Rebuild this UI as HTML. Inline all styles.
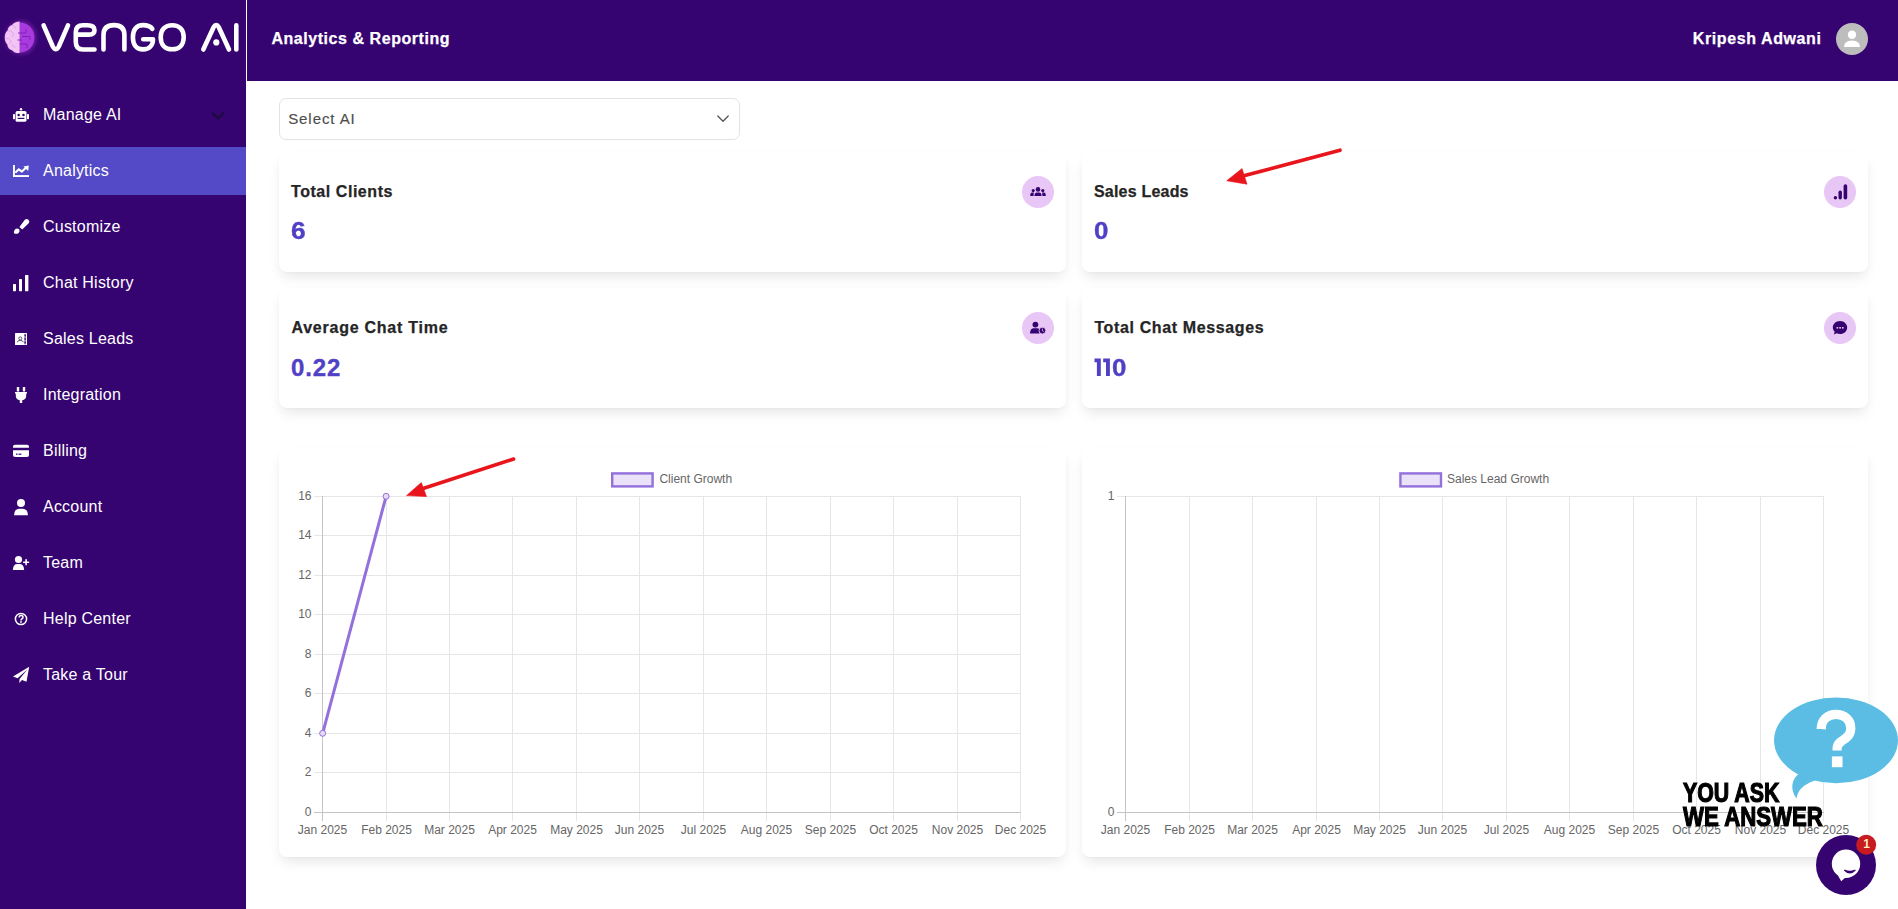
<!DOCTYPE html>
<html><head><meta charset="utf-8">
<style>
*{box-sizing:border-box;margin:0;padding:0}
html,body{width:1898px;height:909px;overflow:hidden;background:#fff;font-family:"Liberation Sans",sans-serif}
.t{position:absolute;white-space:nowrap;line-height:1}
#side{position:absolute;left:0;top:0;width:246px;height:909px;background:#360470}
#hdr{position:absolute;left:247px;top:0;width:1651px;height:81px;background:#360470}
.act{position:absolute;left:0;top:147px;width:246px;height:48px;background:#544ac8}
.mi{font-size:16px;color:#fff;left:43px;letter-spacing:0.22px}
.ic{position:absolute;left:0;top:0}
.card{position:absolute;background:#fff;border-radius:8px;box-shadow:0 7px 14px -3px rgba(0,0,0,0.11),0 1px 2px rgba(0,0,0,0.02)}
.ctitle{font-size:16px;font-weight:bold;color:#252525;-webkit-text-stroke:0.25px #252525}
.cnum{font-size:24px;font-weight:bold;color:#5040c6;-webkit-text-stroke:0.35px #5040c6}
.circ{position:absolute;width:32px;height:32px;border-radius:50%;background:#e8c6f6}
.lab{font-size:12px;color:#666}
</style></head>
<body>
<div id="side"></div>
<div id="hdr"></div>
<div class="act"></div>

<!-- logo -->
<svg class="ic" width="246" height="80" viewBox="0 0 246 80">
  <defs>
    <radialGradient id="glow" cx="50%" cy="50%" r="50%">
      <stop offset="60%" stop-color="#c060f0" stop-opacity="0.5"/>
      <stop offset="100%" stop-color="#c060f0" stop-opacity="0"/>
    </radialGradient>
  </defs>
  <filter id="blr" x="-50%" y="-50%" width="200%" height="200%"><feGaussianBlur stdDeviation="2.2"/></filter>
  <ellipse cx="21" cy="37.5" rx="15" ry="16.5" fill="#a030d8" opacity="0.55" filter="url(#blr)"/>
  <path d="M19.4,22.6 C28.2,22.6 34.4,29.2 34.4,37.6 C34.4,46 28.2,52.6 19.4,52.6 Z" fill="#a83ade"/>
  <path d="M19.6,21.6 C16.4,21.6 13.6,22.8 12,25 C9.4,25.6 7.8,28 7.6,30.6 C5.6,32.2 4.7,34.8 4.8,37.4 C4.6,40.2 5.6,42.6 7.2,44.2 C7.4,47.2 9.4,49.6 12,50.2 C13.8,52.4 16.6,53.2 19.6,53 Z" fill="#f1c4f5"/>
  <g fill="none" stroke="#d995e6" stroke-width="0.9" opacity="0.8">
    <path d="M8,31 Q11.5,30 13,33 Q14,35.5 12,37"/>
    <path d="M6,38.5 Q9,37.5 10.5,40 Q11.5,42.5 9.5,44"/>
    <path d="M12.5,25.5 Q15.5,26 15.5,28.5"/>
    <path d="M11.5,46 Q14.5,45 15.5,48"/>
  </g>
  <g fill="none" stroke="#7a1fb4" stroke-width="0.9">
    <path d="M18,33 L26,33 L26,29"/>
    <path d="M17.5,40 L22,40"/>
    <path d="M22,36.5 L30,36.5 L30,40"/>
    <path d="M20,44 L27,44 L27,48"/>
  </g>
  <g fill="none" stroke="#fff" stroke-width="4.6" stroke-linecap="round" stroke-linejoin="round">
    <path d="M43.6,25.4 L52.8,46.5 Q55.8,52 58.8,46.5 L68,25.4"/>
    <path d="M94.5,49.5 L83,49.5 Q75.8,49.5 75.8,42 L75.8,32 Q75.8,25.2 83,25.2 L87.5,25.2 Q94.5,25.2 94.5,30.3 Q94.5,34.6 89,34.6 L76.5,34.6"/>
    <path d="M103.5,49.5 L103.5,35 Q103.5,25.1 114,25.1 Q124.4,25.1 124.4,35 L124.4,49.5"/>
    <path d="M152.3,28.8 C150.5,26.3 147.5,25.1 142.95,25.1 C136.7,25.1 132.9,29.6 132.9,37.25 C132.9,44.9 136.7,49.4 142.95,49.4 C149.2,49.4 153,45.5 153,39.2 L143.2,39.2"/>
    <path d="M172.2,25.2 C179.3,25.2 183.7,29.8 183.7,37.25 C183.7,44.7 179.3,49.3 172.2,49.3 C165.1,49.3 160.7,44.7 160.7,37.25 C160.7,29.8 165.1,25.2 172.2,25.2 Z"/>
    <path d="M203.3,49.5 L213.6,27.2 Q216.2,22.8 218.8,27.2 L229,49.5"/>
    <path d="M236.3,25.2 L236.3,49.5"/>
  </g>
  <circle cx="216.3" cy="42.4" r="3.1" fill="#fff"/>
</svg>

<!-- header text -->
<div class="t" style="left:271.4px;top:31.2px;font-size:16px;font-weight:bold;color:#fff;letter-spacing:0.55px;-webkit-text-stroke:0.25px #fff">Analytics &amp; Reporting</div>
<div class="t" style="right:76.5px;top:30.7px;font-size:16px;font-weight:bold;color:#fff;letter-spacing:0.6px;-webkit-text-stroke:0.25px #fff">Kripesh Adwani</div>
<svg class="ic" style="left:1836px;top:23px" width="32" height="32" viewBox="0 0 32 32">
  <circle cx="16" cy="16" r="16" fill="#bdbdbd"/>
  <circle cx="16" cy="11.8" r="4.2" fill="#fff"/>
  <path d="M8,24 Q8,17.5 16,17.5 Q24,17.5 24,24 Z" fill="#fff"/>
</svg>

<!-- sidebar menu -->
<div class="t mi" style="top:107.2px">Manage AI</div>
<div class="t mi" style="top:163.2px">Analytics</div>
<div class="t mi" style="top:219.2px">Customize</div>
<div class="t mi" style="top:275.2px">Chat History</div>
<div class="t mi" style="top:331.2px">Sales Leads</div>
<div class="t mi" style="top:387.2px">Integration</div>
<div class="t mi" style="top:443.2px">Billing</div>
<div class="t mi" style="top:499.2px">Account</div>
<div class="t mi" style="top:555.2px">Team</div>
<div class="t mi" style="top:611.2px">Help Center</div>
<div class="t mi" style="top:667.2px">Take a Tour</div>

<svg class="ic" width="246" height="909" viewBox="0 0 246 909">
  <g fill="#fff">
    <!-- robot -->
    <rect x="15.6" y="110.9" width="10.9" height="10.9" rx="1.6"/>
    <rect x="13" y="114" width="2" height="5.2" rx="0.6"/>
    <rect x="27" y="114" width="2" height="5.2" rx="0.6"/>
    <circle cx="21" cy="109.3" r="1.2"/>
    <!-- chart line -->
    <rect x="13" y="165" width="1.9" height="12"/>
    <rect x="13" y="175.1" width="16" height="1.9"/>
    <polygon points="23.4,166.4 28.8,165.6 28.2,171"/>
    <!-- bars -->
    <rect x="13" y="284" width="3" height="7.2" rx="0.6"/>
    <rect x="19" y="279" width="3" height="12.2" rx="0.6"/>
    <rect x="25" y="275" width="3.4" height="16.2" rx="0.6"/>
    <!-- address book -->
    <rect x="15" y="333" width="12" height="12" rx="0.5"/>
    <!-- plug -->
    <rect x="16.8" y="387" width="2.4" height="4.6" rx="0.5"/>
    <rect x="22.8" y="387" width="2.4" height="4.6" rx="0.5"/>
    <path d="M15,392 L27,392 L27,393.5 L26.2,393.5 L26.2,395.5 Q26.2,399.8 22.2,400.3 L22.2,403 L19.8,403 L19.8,400.3 Q15.8,399.8 15.8,395.5 L15.8,393.5 L15,393.5 Z"/>
    <!-- card -->
    <path d="M13,447.8 L13,446.6 Q13,444.7 15,444.7 L27,444.7 Q29,444.7 29,446.6 L29,447.8 Z"/>
    <path d="M13,450.2 L29,450.2 L29,455.1 Q29,457.1 27,457.1 L15,457.1 Q13,457.1 13,455.1 Z"/>
    <!-- user -->
    <circle cx="21" cy="503" r="4"/>
    <path d="M14,515.2 Q14.3,508.8 19.5,508.8 L22.5,508.8 Q27.7,508.8 28,515.2 Z"/>
    <!-- user plus -->
    <circle cx="18.5" cy="559.5" r="3.6"/>
    <path d="M12.9,570 Q13.1,564.1 17.5,564.1 L19.5,564.1 Q23.9,564.1 24.1,570 Z"/>
    <!-- plane -->
    <path d="M29.2,666.7 L13,676.5 L17.6,678.2 L27.5,669.2 L19.6,679 L19.2,683 L22,680.1 L26.5,681.8 Z"/>
  </g>
  <g fill="#360470">
    <circle cx="18.6" cy="114.9" r="1.25"/>
    <circle cx="23.5" cy="114.9" r="1.25"/>
    <rect x="17.6" y="117.8" width="6.8" height="1.2"/>
    <circle cx="20.3" cy="338.4" r="1.5" fill="none" stroke="#5a4f6e" stroke-width="1"/>
    <path d="M17.3,342.2 Q17.8,340.4 20.3,340.4 Q22.8,340.4 23.3,342.2" fill="none" stroke="#5a4f6e" stroke-width="1"/>
    <rect x="24.3" y="333.8" width="1.6" height="10.6" fill="#8a80a8"/>
    <rect x="24.6" y="334.6" width="1.2" height="1.6"/>
    <rect x="24.6" y="338" width="1.2" height="1.8"/>
    <rect x="24.6" y="341.6" width="1.2" height="1.8"/>
    <rect x="16" y="453.6" width="1.6" height="1.2"/>
    <rect x="18.6" y="453.6" width="2.8" height="1.2"/>
  </g>
  <g fill="none" stroke="#fff" stroke-linecap="round" stroke-linejoin="round">
    <polyline points="16,172 18.8,169.3 21.9,171.6 26.2,167.6" stroke-width="2.1"/>
    
    <path d="M28.4,572 M26.1,559.8 L26.1,564.6 M23.7,562.2 L28.5,562.2" stroke-width="1.6"/>
    <circle cx="21" cy="619" r="5.6" stroke-width="1.5"/>
    <path d="M19.2,617.6 Q19.2,615.6 21.1,615.6 Q23,615.6 23,617.2 Q23,618.3 21.6,619 Q21,619.4 21,620.4" stroke-width="1.5" stroke-linecap="butt"/>
    <polyline points="212.6,113.2 218,118.4 223.4,113.2" stroke="#1e0a42" stroke-width="2.3"/>
  </g>
  <circle cx="21" cy="622" r="0.9" fill="#fff"/>
  <path d="M24.87,219.87 A2.6,2.6 0 0 1 28.73,223.33 L22.21,229.57 L19.39,227.03 Z" fill="#fff"/>
  <path d="M13.9,233.2 Q13.6,230.3 15.4,229 Q17.6,227.9 19.3,229.5 Q20.3,231.6 18.4,233.2 Q16.4,234.4 13.9,233.2 Z" fill="#fff"/>
</svg>


<div style="position:absolute;left:279px;top:98px;width:461px;height:42px;border:1px solid #e3e3e3;border-radius:7px;background:#fff"></div>
<div class="t" style="left:288.2px;top:111.4px;font-size:15px;color:#4d4d4d;letter-spacing:0.92px;-webkit-text-stroke:0.15px #4d4d4d">Select AI</div>
<svg class="ic" style="left:712px;top:109px" width="22" height="20" viewBox="0 0 22 20"><polyline points="5.8,7 11,12.3 16.2,7" fill="none" stroke="#555" stroke-width="1.3" stroke-linecap="round" stroke-linejoin="round"/></svg>

<div class="card" style="left:279px;top:152px;width:787px;height:120px"></div>
<div class="card" style="left:1082px;top:152px;width:786px;height:120px"></div>
<div class="card" style="left:279px;top:288px;width:787px;height:120px"></div>
<div class="card" style="left:1082px;top:288px;width:786px;height:120px"></div>
<div class="card" style="left:279px;top:448px;width:787px;height:409px"></div>
<div class="card" style="left:1082px;top:448px;width:786px;height:409px"></div>
<div class="t ctitle" style="left:291px;top:183.5px;letter-spacing:0.55px">Total Clients</div>
<div class="t ctitle" style="left:1094px;top:184px;letter-spacing:0.2px">Sales Leads</div>
<div class="t ctitle" style="left:291.5px;top:320.3px;letter-spacing:0.75px">Average Chat Time</div>
<div class="t ctitle" style="left:1094.4px;top:320.3px;letter-spacing:0.63px">Total Chat Messages</div>
<div class="t cnum" style="left:290.6px;top:219.1px;transform:scaleX(1.1);transform-origin:0 0">6</div>
<div class="t cnum" style="left:1094px;top:219.1px;transform:scaleX(1.08);transform-origin:0 0">0</div>
<div class="t cnum" style="left:291px;top:355.7px;letter-spacing:0.9px">0.22</div>
<div class="t cnum" style="left:1112.2px;top:355.6px;transform:scaleX(1.08);transform-origin:0 0">0</div>
<svg class="ic" style="left:1090px;top:354px" width="24" height="26" viewBox="1090 354 24 26"><g fill="#5040c6"><path d="M1094.5,358.5 L1100.8,358.5 L1100.8,376 L1096.9,376 L1096.9,362.3 L1094.5,362.3 Z"/><path d="M1103.2,358.5 L1109.9,358.5 L1109.9,376 L1106,376 L1106,362.3 L1103.2,362.3 Z"/></g></svg>
<div class="circ" style="left:1022px;top:176px"></div>
<div class="circ" style="left:1824px;top:176px"></div>
<div class="circ" style="left:1022px;top:312px"></div>
<div class="circ" style="left:1824px;top:312px"></div>
<svg class="ic" width="1898" height="909" viewBox="0 0 1898 909" style="pointer-events:none">
 <g fill="#360470">
  <!-- users -->
  <circle cx="1038" cy="189.4" r="2.3"/>
  <path d="M1034.4,196 Q1034.5,192.6 1037,192.6 L1039,192.6 Q1041.5,192.6 1041.6,196 Z"/>
  <circle cx="1033.2" cy="190.6" r="1.6"/>
  <path d="M1030.2,196 L1030.4,194 Q1030.8,192.6 1032.4,192.6 L1033.8,192.6 L1033.6,196 Z"/>
  <circle cx="1042.8" cy="190.6" r="1.6"/>
  <path d="M1045.8,196 L1045.6,194 Q1045.2,192.6 1043.6,192.6 L1042.2,192.6 L1042.4,196 Z"/>
  <!-- signal bars -->
  <circle cx="1835.4" cy="197.7" r="1.7"/>
  <rect x="1838.5" y="190.6" width="3.4" height="8.9" rx="1.7"/>
  <rect x="1843.6" y="184.2" width="3.6" height="15.3" rx="1.8"/>
  <!-- user clock -->
  <circle cx="1035.4" cy="324.6" r="2.9"/>
  <path d="M1030,333.6 Q1030.2,328.2 1033.8,328.2 L1037.2,328.2 Q1039.5,328.2 1040.2,330 L1039.6,333.6 Z"/>
  <circle cx="1042.4" cy="330.6" r="3.4" stroke="#e8c6f6" stroke-width="0.9"/>
  <!-- chat -->
  <path d="M1840,320.9 C1844,320.9 1847.2,323.8 1847.2,327.5 C1847.2,331.2 1844,334.1 1840,334.1 C1838.8,334.1 1837.6,333.8 1836.7,333.3 L1834,334.6 L1834.6,331.6 C1833.6,330.5 1832.8,329.1 1832.8,327.5 C1832.8,323.8 1836,320.9 1840,320.9 Z"/>
 </g>
 <g fill="#e8c6f6">
  <rect x="1836.6" y="327" width="1.6" height="1.6"/>
  <rect x="1839.3" y="327" width="1.6" height="1.6"/>
  <rect x="1842" y="327" width="1.6" height="1.6"/>
  <path d="M1042.4,328.6 L1042.4,330.8 L1043.8,331.8" fill="none" stroke="#e8c6f6" stroke-width="0.8"/>
 </g>
</svg>
<svg class="ic" width="1898" height="909" viewBox="0 0 1898 909" shape-rendering="crispEdges">
<g stroke="#e6e6e6" stroke-width="1">
<line x1="314" y1="772.5" x2="1021" y2="772.5"/>
<line x1="314" y1="733.5" x2="1021" y2="733.5"/>
<line x1="314" y1="693.5" x2="1021" y2="693.5"/>
<line x1="314" y1="654.5" x2="1021" y2="654.5"/>
<line x1="314" y1="614.5" x2="1021" y2="614.5"/>
<line x1="314" y1="575.5" x2="1021" y2="575.5"/>
<line x1="314" y1="535.5" x2="1021" y2="535.5"/>
<line x1="314" y1="496.5" x2="1021" y2="496.5"/>
<line x1="386.5" y1="496" x2="386.5" y2="821"/>
<line x1="449.5" y1="496" x2="449.5" y2="821"/>
<line x1="512.5" y1="496" x2="512.5" y2="821"/>
<line x1="576.5" y1="496" x2="576.5" y2="821"/>
<line x1="639.5" y1="496" x2="639.5" y2="821"/>
<line x1="703.5" y1="496" x2="703.5" y2="821"/>
<line x1="766.5" y1="496" x2="766.5" y2="821"/>
<line x1="830.5" y1="496" x2="830.5" y2="821"/>
<line x1="893.5" y1="496" x2="893.5" y2="821"/>
<line x1="957.5" y1="496" x2="957.5" y2="821"/>
<line x1="1020.5" y1="496" x2="1020.5" y2="821"/>
<line x1="1117" y1="496.5" x2="1824" y2="496.5"/>
<line x1="1189.5" y1="496" x2="1189.5" y2="821"/>
<line x1="1252.5" y1="496" x2="1252.5" y2="821"/>
<line x1="1316.5" y1="496" x2="1316.5" y2="821"/>
<line x1="1379.5" y1="496" x2="1379.5" y2="821"/>
<line x1="1442.5" y1="496" x2="1442.5" y2="821"/>
<line x1="1506.5" y1="496" x2="1506.5" y2="821"/>
<line x1="1569.5" y1="496" x2="1569.5" y2="821"/>
<line x1="1633.5" y1="496" x2="1633.5" y2="821"/>
<line x1="1696.5" y1="496" x2="1696.5" y2="821"/>
<line x1="1760.5" y1="496" x2="1760.5" y2="821"/>
<line x1="1823.5" y1="496" x2="1823.5" y2="821"/>
</g><g stroke="#c4c4c4" stroke-width="1">
<line x1="322.5" y1="496" x2="322.5" y2="821"/><line x1="314" y1="812.5" x2="1021" y2="812.5"/>
<line x1="1125.5" y1="496" x2="1125.5" y2="821"/><line x1="1117" y1="812.5" x2="1824" y2="812.5"/>
</g></svg>
<svg class="ic" width="1898" height="909" viewBox="0 0 1898 909">
 <line x1="322.65" y1="733.3" x2="386.09999999999997" y2="496.3" stroke="#9370db" stroke-width="3"/>
 <circle cx="322.65" cy="733.3" r="3" fill="#e4dcf6" stroke="#9370db" stroke-width="1"/>
 <circle cx="386.09999999999997" cy="496.3" r="3" fill="#e4dcf6" stroke="#9370db" stroke-width="1"/>
 <rect x="612.2" y="473.4" width="40.4" height="13" fill="#e9e2f8" stroke="#9370db" stroke-width="2.4"/>
 <rect x="1400.4" y="473.4" width="40.6" height="13" fill="#e9e2f8" stroke="#9370db" stroke-width="2.4"/>
</svg>
<div class="t lab" style="right:1586.5px;top:806.0px">0</div>
<div class="t lab" style="right:1586.5px;top:766.0px">2</div>
<div class="t lab" style="right:1586.5px;top:727.0px">4</div>
<div class="t lab" style="right:1586.5px;top:687.0px">6</div>
<div class="t lab" style="right:1586.5px;top:648.0px">8</div>
<div class="t lab" style="right:1586.5px;top:608.0px">10</div>
<div class="t lab" style="right:1586.5px;top:569.0px">12</div>
<div class="t lab" style="right:1586.5px;top:529.0px">14</div>
<div class="t lab" style="right:1586.5px;top:490.0px">16</div>
<div class="t lab" style="right:783.5px;top:490.0px">1</div>
<div class="t lab" style="right:783.5px;top:806.0px">0</div>
<div class="t lab" style="left:262.5px;width:120px;text-align:center;top:823.7px">Jan 2025</div>
<div class="t lab" style="left:1065.5px;width:120px;text-align:center;top:823.7px">Jan 2025</div>
<div class="t lab" style="left:326.5px;width:120px;text-align:center;top:823.7px">Feb 2025</div>
<div class="t lab" style="left:1129.5px;width:120px;text-align:center;top:823.7px">Feb 2025</div>
<div class="t lab" style="left:389.5px;width:120px;text-align:center;top:823.7px">Mar 2025</div>
<div class="t lab" style="left:1192.5px;width:120px;text-align:center;top:823.7px">Mar 2025</div>
<div class="t lab" style="left:452.5px;width:120px;text-align:center;top:823.7px">Apr 2025</div>
<div class="t lab" style="left:1256.5px;width:120px;text-align:center;top:823.7px">Apr 2025</div>
<div class="t lab" style="left:516.5px;width:120px;text-align:center;top:823.7px">May 2025</div>
<div class="t lab" style="left:1319.5px;width:120px;text-align:center;top:823.7px">May 2025</div>
<div class="t lab" style="left:579.5px;width:120px;text-align:center;top:823.7px">Jun 2025</div>
<div class="t lab" style="left:1382.5px;width:120px;text-align:center;top:823.7px">Jun 2025</div>
<div class="t lab" style="left:643.5px;width:120px;text-align:center;top:823.7px">Jul 2025</div>
<div class="t lab" style="left:1446.5px;width:120px;text-align:center;top:823.7px">Jul 2025</div>
<div class="t lab" style="left:706.5px;width:120px;text-align:center;top:823.7px">Aug 2025</div>
<div class="t lab" style="left:1509.5px;width:120px;text-align:center;top:823.7px">Aug 2025</div>
<div class="t lab" style="left:770.5px;width:120px;text-align:center;top:823.7px">Sep 2025</div>
<div class="t lab" style="left:1573.5px;width:120px;text-align:center;top:823.7px">Sep 2025</div>
<div class="t lab" style="left:833.5px;width:120px;text-align:center;top:823.7px">Oct 2025</div>
<div class="t lab" style="left:1636.5px;width:120px;text-align:center;top:823.7px">Oct 2025</div>
<div class="t lab" style="left:897.5px;width:120px;text-align:center;top:823.7px">Nov 2025</div>
<div class="t lab" style="left:1700.5px;width:120px;text-align:center;top:823.7px">Nov 2025</div>
<div class="t lab" style="left:960.5px;width:120px;text-align:center;top:823.7px">Dec 2025</div>
<div class="t lab" style="left:1763.5px;width:120px;text-align:center;top:823.7px">Dec 2025</div>
<div class="t lab" style="left:659.4px;top:473.2px">Client Growth</div>
<div class="t lab" style="left:1447px;top:473.2px">Sales Lead Growth</div>
<svg class="ic" width="1898" height="909" viewBox="0 0 1898 909">
 <g fill="#e8161c" stroke="#e8161c">
  <line x1="1340" y1="150.2" x2="1240" y2="176.8" stroke-width="3.6" stroke-linecap="round"/>
  <polygon points="1226.7,180.8 1242,168.6 1247,184.2" stroke-width="0.6"/>
  <line x1="513.6" y1="459" x2="420" y2="489.5" stroke-width="3.6" stroke-linecap="round"/>
  <polygon points="406.5,495.6 421.3,482.6 426.5,496.6" stroke-width="0.6"/>
 </g>
</svg>
<svg class="ic" width="1898" height="909" viewBox="0 0 1898 909">
 <ellipse cx="1836" cy="740.3" rx="62" ry="42.9" fill="#5bbde3"/>
 <path d="M1802,768 L1800.5,772.5 C1791.5,778.5 1789.5,789 1796.5,798.6 C1797.6,790.5 1803,784.5 1815,780.5 L1815,770 Z" fill="#5bbde3"/>
 <path d="M1821.2,729 C1821.2,720 1827.5,714.3 1836,714.3 C1844.5,714.3 1850.8,720 1850.8,728.2 C1850.8,735.5 1845.5,738.5 1841.8,741 C1838.6,743 1837.1,745 1837.1,748.5 L1837.1,750.4" fill="none" stroke="#fff" stroke-width="9.2"/>
 <polygon points="1816.5,728.6 1825.9,728.6 1825.9,729.6 1816.5,728.6" fill="#fff"/>
 <rect x="1831.9" y="756.4" width="10.6" height="10.8" fill="#fff"/>
 <circle cx="1846" cy="865" r="30" fill="#360470"/>
 <circle cx="1846" cy="863.8" r="14.2" fill="#fff"/>
 <polygon points="1835.5,871 1841.2,881.2 1846.5,876.5" fill="#fff"/>
 <path d="M1844.6,870.3 Q1849.8,875.6 1855,870.3 Q1849.8,872.4 1844.6,870.3 Z" fill="#360470" stroke="#360470" stroke-width="1.3" stroke-linejoin="round"/>
 <circle cx="1866.2" cy="844.8" r="10" fill="#c81b1f"/>
</svg>
<div class="t" style="left:1860.6px;top:838px;width:12px;text-align:center;font-size:12px;font-weight:bold;color:#ffeec0">1</div>
<div class="t" style="left:1683px;top:780px;font-size:27px;font-weight:bold;color:#000;transform:scaleX(0.79);transform-origin:0 0;-webkit-text-stroke:1.2px #000">YOU ASK</div>
<div class="t" style="left:1683px;top:804px;font-size:27px;font-weight:bold;color:#000;transform:scaleX(0.823);transform-origin:0 0;-webkit-text-stroke:1.2px #000">WE ANSWER</div>


</body></html>
